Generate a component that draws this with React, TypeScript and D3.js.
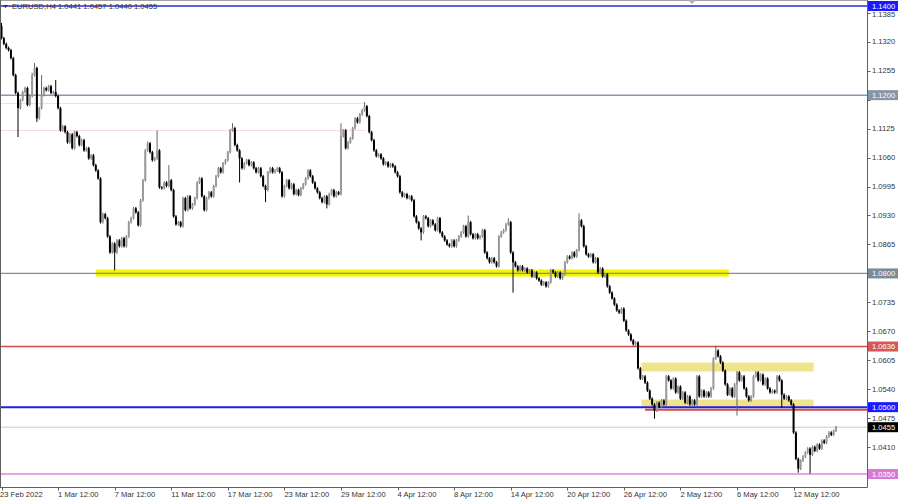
import * as d3 from "d3";
import React, { useRef, useEffect } from "react";

// EURUSD H4 closes, in pips above 1.0000 (1328 -> 1.1328), one per bar
const firstOpen = 1355;
const closes = [
  1328, 1315, 1306, 1301, 1283, 1245, 1205, 1171, 1189, 1207,
  1216, 1178, 1198, 1245, 1261, 1148, 1171, 1200, 1216, 1211,
  1220, 1205, 1207, 1198, 1171, 1121, 1130, 1117, 1094, 1112,
  1081, 1117, 1108, 1088, 1099, 1076, 1081, 1058, 1065, 1043,
  1031, 1013, 915, 933, 924, 883, 847, 867, 847, 874,
  861, 879, 861, 883, 915, 924, 946, 937, 908, 964,
  1009, 1076, 1092, 1072, 1054, 1058, 1076, 993, 991, 1004,
  996, 1009, 987, 928, 910, 915, 906, 969, 942, 973,
  946, 955, 969, 1004, 1013, 973, 942, 969, 982, 973,
  996, 1018, 1036, 1027, 1047, 1054, 1072, 1121, 1126, 1088,
  1076, 1058, 1036, 1047, 1054, 1043, 1049, 1036, 1027, 1036,
  1018, 996, 987, 1027, 1036, 1027, 1031, 1036, 1027, 973,
  996, 1009, 991, 1000, 978, 987, 976, 991, 1000, 1013,
  1031, 1018, 1004, 991, 982, 969, 960, 973, 955, 978,
  987, 973, 982, 978, 1108, 1121, 1081, 1094, 1103, 1126,
  1148, 1139, 1157, 1166, 1175, 1153, 1117, 1099, 1076, 1063,
  1067, 1058, 1045, 1049, 1040, 1045, 1040, 1027, 1018, 982,
  973, 978, 969, 973, 964, 928, 915, 901, 892, 928,
  924, 906, 919, 910, 897, 924, 892, 883, 874, 865,
  861, 874, 861, 874, 883, 892, 906, 883, 915, 888,
  879, 888, 879, 883, 897, 847, 834, 825, 834, 825,
  816, 883, 892, 897, 910, 915, 847, 825, 816, 807,
  816, 807, 811, 802, 807, 793, 802, 789, 784, 775,
  780, 771, 780, 807, 802, 793, 802, 789, 798, 825,
  838, 834, 847, 838, 852, 919, 906, 861, 843, 838,
  843, 825, 834, 802, 811, 793, 798, 771, 757, 744,
  730, 717, 712, 721, 694, 672, 663, 650, 641, 645,
  587, 564, 569, 555, 537, 519, 506, 492, 510, 501,
  515, 506, 569, 560, 542, 564, 533, 546, 519, 533,
  510, 524, 506, 515, 506, 569, 524, 537, 524, 533,
  524, 542, 609, 627, 614, 600, 582, 551, 528, 542,
  524, 551, 578, 560, 569, 542, 524, 515, 524, 569,
  578, 560, 573, 551, 564, 542, 533, 537, 533, 569,
  560, 528, 519, 524, 515, 506, 443, 384, 362, 380,
  389, 398, 407, 393, 411, 402, 416, 407, 425, 420,
  434, 443, 438, 447, 455,
];

// long wicks visible on the chart: [bar, extreme in pips]
const wickHighs: [number, number][] = [
  [0, 1362], [13, 1250], [14, 1272], [17, 1245], [23, 1234], [62, 1096],
  [66, 1121], [71, 1043], [98, 1137], [144, 1137], [154, 1184], [198, 930],
  [215, 924], [245, 935], [303, 638],
];
const wickLows: [number, number][] = [
  [7, 1106], [15, 1140], [48, 807], [101, 1004], [112, 960], [138, 946],
  [178, 874], [217, 757], [277, 474], [312, 481], [331, 499], [338, 353],
  [343, 351],
];
const normalWick = 3;

const priceTicks = [
  1.1385, 1.132, 1.1255, 1.119, 1.1125, 1.106, 1.0995, 1.093, 1.0865, 1.08,
  1.0735, 1.067, 1.0605, 1.054, 1.0475, 1.041, 1.0345,
];

const timeLabels = [
  "23 Feb 2022", "1 Mar 12:00", "7 Mar 12:00", "11 Mar 12:00", "17 Mar 12:00",
  "23 Mar 12:00", "29 Mar 12:00", "4 Apr 12:00", "8 Apr 12:00", "14 Apr 12:00",
  "20 Apr 12:00", "26 Apr 12:00", "2 May 12:00", "6 May 12:00", "12 May 12:00",
];
const timeLabelBars = [0, 24, 48, 72, 96, 120, 144, 168, 192, 216, 240, 264, 288, 312, 336];

// horizontal levels drawn across the chart
const levelPrices = [1.14, 1.12, 1.08, 1.0636, 1.05, 1.0455, 1.035];
const levelNames = ["1.1400", "1.1200", "1.0800", "1.0636", "1.0500", "1.0455", "1.0350"];

// partial lines / zones: [fromBar, toBar, low, high]
const zones: [number, number, number, number][] = [
  [40, 308.5, 1.0793, 1.0809],
  [271.5, 344.5, 1.058, 1.06],
  [271.5, 344.5, 1.05, 1.0517],
];
const pinkLines = [1.1182, 1.1121];
const pinkLineEnd = 154.5;
const redLine = 1.0495;
const redLineStart = 273;

const header = "EURUSD,H4  1.0441 1.0457 1.0440 1.0455";

const App: React.FC = () => {
  const svgRef = useRef<SVGSVGElement | null>(null);

  useEffect(() => {
    const width = 900;
    const height = 501;
    const axisX = 867.5;
    const axisY = 487.5;

    const svg = d3.select(svgRef.current).attr("width", width).attr("height", height);
    svg.selectAll("*").remove();

    svg.append("rect").attr("width", width).attr("height", height).attr("fill", "#fff");

    const x = d3.scaleLinear().domain([0, closes.length - 1]).range([1.5, 836]);
    const y = d3.scaleLinear().domain([1.035, 1.14]).range([474, 6]);
    const pip = (v: number) => 1 + v / 10000;

    const font = "'Liberation Sans', Arial, sans-serif";

    // zones
    const zoneColors = ["#f5f500", "#efe38e", "#efe38e"];
    svg.append("g").selectAll("rect")
      .data(zones)
      .enter()
      .append("rect")
      .attr("x", d => x(d[0]))
      .attr("width", d => x(d[1]) - x(d[0]))
      .attr("y", d => y(d[3]))
      .attr("height", d => y(d[2]) - y(d[3]))
      .attr("fill", (_, i) => zoneColors[i]);

    // faint pink lines
    svg.append("g").selectAll("line")
      .data(pinkLines)
      .enter()
      .append("line")
      .attr("x1", 0)
      .attr("x2", x(pinkLineEnd))
      .attr("y1", d => Math.round(y(d)) + 0.5)
      .attr("y2", d => Math.round(y(d)) + 0.5)
      .attr("stroke", "#ffd9de")
      .attr("stroke-width", 1);

    // red line under 1.0500
    svg.append("line")
      .attr("x1", x(redLineStart))
      .attr("x2", axisX)
      .attr("y1", y(redLine) + 0.5)
      .attr("y2", y(redLine) + 0.5)
      .attr("stroke", "#d84848")
      .attr("stroke-width", 2);

    const lineColors = ["#2a2ad8", "#8797ad", "#7f8fa0", "#cf4c4c", "#2020e0", "#c8c8c8", "#da8ada"];
    const lineWidths = [1.5, 1.5, 1.2, 1.5, 2, 1, 1.5];
    svg.append("g").selectAll("line")
      .data(levelPrices)
      .enter()
      .append("line")
      .attr("x1", 0)
      .attr("x2", axisX)
      .attr("y1", d => y(d))
      .attr("y2", d => y(d))
      .attr("stroke", (_, i) => lineColors[i])
      .attr("stroke-width", (_, i) => lineWidths[i]);

    // candles
    const bars = closes.map((c, i) => {
      const open = i === 0 ? firstOpen : closes[i - 1];
      const hiOverride = wickHighs.find(w => w[0] === i);
      const loOverride = wickLows.find(w => w[0] === i);
      const high = hiOverride ? hiOverride[1] : Math.max(open, c) + normalWick;
      const low = loOverride ? loOverride[1] : Math.min(open, c) - normalWick;
      return { i, open: pip(open), close: pip(c), high: pip(high), low: pip(low) };
    });

    const bull = (d: { open: number; close: number }) => d.close >= d.open;

    const g = svg.append("g");
    g.selectAll("line.wick")
      .data(bars)
      .enter()
      .append("line")
      .attr("class", "wick")
      .attr("x1", d => x(d.i))
      .attr("x2", d => x(d.i))
      .attr("y1", d => y(d.high))
      .attr("y2", d => y(d.low))
      .attr("stroke", d => (bull(d) ? "#666" : "#000"))
      .attr("stroke-width", 1);

    g.selectAll("rect.body")
      .data(bars)
      .enter()
      .append("rect")
      .attr("class", "body")
      .attr("x", d => x(d.i) - 1)
      .attr("width", 2)
      .attr("y", d => y(Math.max(d.open, d.close)))
      .attr("height", d => Math.max(1, Math.abs(y(d.open) - y(d.close))))
      .attr("fill", d => (bull(d) ? "#9a9a9a" : "#000"));

    // frame
    svg.append("line").attr("x1", 0).attr("x2", axisX).attr("y1", 0.5).attr("y2", 0.5)
      .attr("stroke", "#a0a0a0");
    svg.append("line").attr("x1", 0.5).attr("x2", 0.5).attr("y1", 0).attr("y2", axisY)
      .attr("stroke", "#606060");
    svg.append("line").attr("x1", axisX).attr("x2", axisX).attr("y1", 0).attr("y2", axisY)
      .attr("stroke", "#606060");
    svg.append("line").attr("x1", 0).attr("x2", axisX).attr("y1", axisY).attr("y2", axisY)
      .attr("stroke", "#606060");

    // price axis; labels sitting under a level box are hidden by it, as on the chart
    const covered = (p: number) => levelPrices.some(l => Math.abs(y(l) - y(p)) < 5.5);
    const pa = svg.append("g");
    pa.selectAll("line")
      .data(priceTicks)
      .enter()
      .append("line")
      .attr("x1", axisX)
      .attr("x2", axisX + 3)
      .attr("y1", d => Math.round(y(d)) + 0.5)
      .attr("y2", d => Math.round(y(d)) + 0.5)
      .attr("stroke", "#606060");
    pa.selectAll("text")
      .data(priceTicks.filter((p, i) => i === 0 || !covered(p)))
      .enter()
      .append("text")
      .attr("x", 872)
      .attr("y", d => Math.max(y(d), 14.5))
      .attr("dy", "0.35em")
      .attr("font-family", font)
      .attr("font-size", 7.6)
      .attr("fill", "#333")
      .text(d => d.toFixed(4));

    // level boxes on the price axis
    const boxColors = ["#1a1aff", "#8595aa", "#7c8b99", "#d45858", "#1a1aff", "#000", "#d67ad6"];
    const boxes = pa.append("g").selectAll("g")
      .data(levelPrices)
      .enter()
      .append("g");
    boxes.append("rect")
      .attr("x", 868)
      .attr("width", 30)
      .attr("y", d => y(d) - 5)
      .attr("height", 10)
      .attr("fill", (_, i) => boxColors[i]);
    boxes.append("text")
      .attr("x", 872)
      .attr("y", d => y(d))
      .attr("dy", "0.35em")
      .attr("font-family", font)
      .attr("font-size", 7.6)
      .attr("fill", "#fff")
      .text((_, i) => levelNames[i]);

    // time axis
    const ta = svg.append("g");
    ta.selectAll("line")
      .data(timeLabelBars)
      .enter()
      .append("line")
      .attr("x1", d => Math.round(x(d)) + 0.5)
      .attr("x2", d => Math.round(x(d)) + 0.5)
      .attr("y1", axisY)
      .attr("y2", axisY + 3)
      .attr("stroke", "#606060");
    ta.selectAll("text")
      .data(timeLabelBars)
      .enter()
      .append("text")
      .attr("x", (d, i) => (i === 0 ? 0 : x(d)))
      .attr("y", 497)
      .attr("font-family", font)
      .attr("font-size", 7.6)
      .attr("fill", "#333")
      .text((_, i) => timeLabels[i]);

    // header and markers
    svg.append("path").attr("d", "M3,5 L8,5 L5.5,8 Z").attr("fill", "#333");
    svg.append("text")
      .attr("x", 12)
      .attr("y", 9)
      .attr("font-family", font)
      .attr("font-size", 7.6)
      .attr("fill", "#333")
      .text(header);
    svg.append("path").attr("d", "M688,0 L696,0 L692,4 Z").attr("fill", "#b0b0b0");
  }, []);

  return (
    <div style={{ position: "fixed", left: 0, top: 0 }}>
      <svg ref={svgRef} style={{ display: "block" }}></svg>
    </div>
  );
};

export default App;
